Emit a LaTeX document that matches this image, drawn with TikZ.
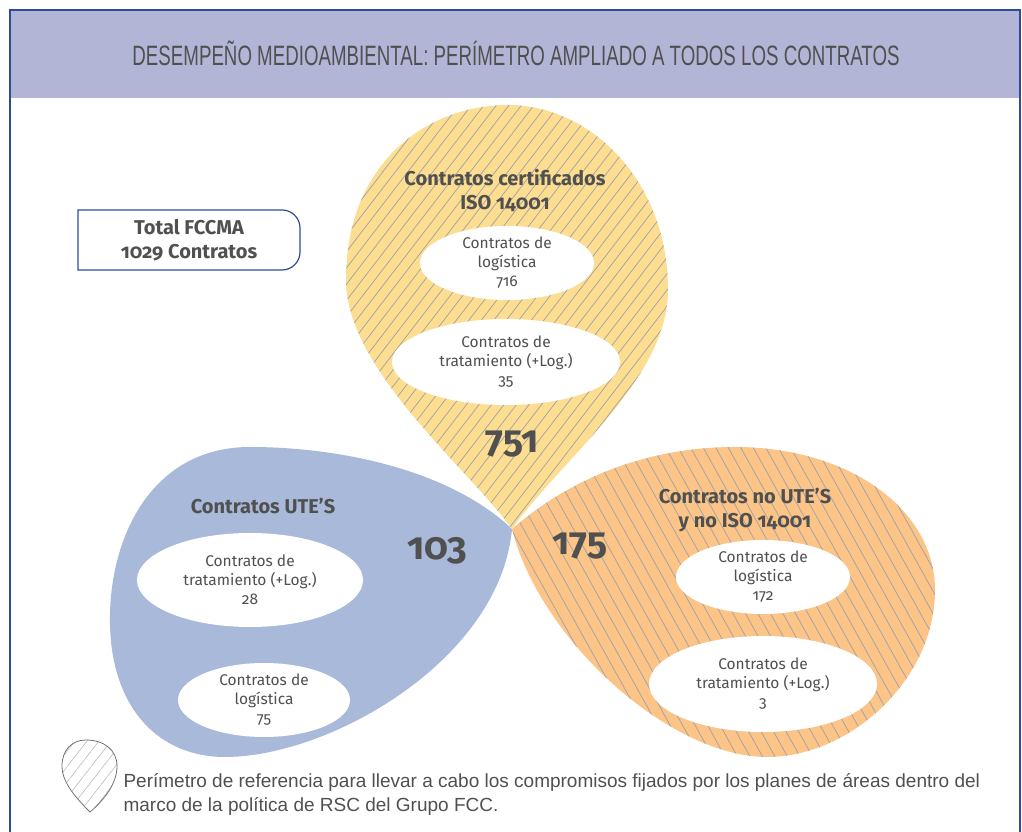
\documentclass[tikz,border=0pt]{standalone}
\usepackage{fontspec}
\usepackage{graphicx}
\usepackage{xcolor}
\setmainfont{Liberation Sans}
\newfontfamily\petalfont[RawFeature=+onum]{Fira Sans}
\usetikzlibrary{shapes.geometric, calc}

\definecolor{headband}{HTML}{B3B5D7}
\definecolor{frameblue}{HTML}{2A4D9B}
\definecolor{textgray}{HTML}{505050}
\definecolor{isoyellow}{HTML}{FDDD90}
\definecolor{uteblue}{HTML}{A9B9D9}
\definecolor{noorange}{HTML}{FCC486}
\definecolor{tanover}{HTML}{D8C28D}
\definecolor{warmover}{HTML}{FCCB6A}
\definecolor{hatchgray}{HTML}{9CA1AD}

% petal outlines (shared by fills, clips and hatching)
\newcommand{\isopetal}{(512,303) .. controls (470,362) and (346,462) .. (346,552)
  .. controls (346,672) and (430,727) .. (508,727)
  .. controls (590,727) and (668,652) .. (668,542)
  .. controls (668,452) and (560,372) .. (512,303) -- cycle}
\newcommand{\utepetal}{(512,303) .. controls (450,362) and (340,385) .. (250,385)
  .. controls (150,385) and (108,292) .. (110,207)
  .. controls (112,122) and (160,75) .. (225,75)
  .. controls (330,75) and (500,172) .. (512,303) -- cycle}
\newcommand{\nopetal}{(512,303) .. controls (580,362) and (660,385) .. (735,385)
  .. controls (850,385) and (935,322) .. (935,242)
  .. controls (935,152) and (850,75) .. (767,75)
  .. controls (670,75) and (540,192) .. (512,303) -- cycle}
\newcommand{\keydrop}{(90,20) .. controls (75,35) and (62,50) .. (62,66)
  .. controls (62,82) and (72,92) .. (86,92)
  .. controls (104,92) and (117,82) .. (117,66)
  .. controls (117,48) and (104,32) .. (90,20) -- cycle}

\begin{document}
\begin{tikzpicture}[x=1pt, y=1pt,
    hatchline/.style={draw=hatchgray, line width=0.7pt},
    innerellipse/.style={ellipse, fill=white, inner sep=0pt, text=textgray, align=center,
      font=\petalfont\fontsize{15.5}{19}\selectfont},
    headtext/.style={text=textgray, align=center, font=\petalfont\bfseries\fontsize{20}{24}\selectfont},
    bignum/.style={text=textgray, font=\petalfont\bfseries\fontsize{38}{38}\selectfont},
    frameline/.style={draw=frameblue, line width=2.2pt}]

    \useasboundingbox (0,0) rectangle (1022,832);

    % --- Header band and frame ---
    \fill[headband] (10,734) rectangle (1020,822);
    \draw[frameline] (10,0) -- (10,822) -- (1020,822) -- (1020,0);
    \node[text=textgray, font=\fontsize{28}{28}\selectfont] (title) at (516,779)
      {\resizebox{767pt}{\height}{DESEMPEÑO MEDIOAMBIENTAL: PERÍMETRO AMPLIADO A TODOS LOS CONTRATOS}};

    % --- Petals ---
    \fill[uteblue] \utepetal;
    \fill[noorange] \nopetal;
    \fill[isoyellow] \isopetal;
    \begin{scope}
        \clip \utepetal;
        \fill[tanover] \isopetal;
    \end{scope}
    \begin{scope}
        \clip \nopetal;
        \fill[warmover] \isopetal;
    \end{scope}

    % --- Hatching ---
    \begin{scope}
        \clip \isopetal;
        \foreach \i in {0,...,54}
            \draw[hatchline] (\i*12.5, 292) -- ++(338, 440);
    \end{scope}
    \begin{scope}
        \clip \nopetal;
        \foreach \i in {0,...,49}
            \draw[hatchline] (324+\i*12.5, 392) -- ++(179, -322);
    \end{scope}

    % --- Inner sets ---
    \node[innerellipse, minimum width=174pt, minimum height=74pt] (isolog) at (507,569)
      {Contratos de\\logística\\716};
    \node[innerellipse, minimum width=228pt, minimum height=86pt] (isotrat) at (506,470)
      {Contratos de\\tratamiento (+Log.)\\35};
    \node[innerellipse, minimum width=226pt, minimum height=94pt] (utetrat) at (250,252)
      {Contratos de\\tratamiento (+Log.)\\28};
    \node[innerellipse, minimum width=172pt, minimum height=74pt] (utelog) at (264,132)
      {Contratos de\\logística\\75};
    \node[innerellipse, minimum width=174pt, minimum height=74pt] (nolog) at (763,255)
      {Contratos de\\logística\\172};
    \node[innerellipse, minimum width=228pt, minimum height=96pt] (notrat) at (763,148)
      {Contratos de\\tratamiento (+Log.)\\3};

    % --- Petal labels ---
    \node[headtext] (isohead) at (505,642) {Contratos certificados\\ISO 14001};
    \node[headtext] (utehead) at (263,326) {Contratos UTE’S};
    \node[headtext] (nohead) at (745,322) {Contratos no UTE’S\\y no ISO 14001};
    \node[bignum] (isonum) at (512,388) {751};
    \node[bignum] (utenum) at (437,281) {103};
    \node[bignum] (nonum) at (580,286) {175};

    % --- Total box ---
    \node[headtext] (total) at (189,592) {Total FCCMA\\1029 Contratos};
    \draw[draw=frameblue, line width=1.2pt] (78,622) -- (282,622)
      arc[start angle=90, end angle=0, radius=18] -- (300,580)
      arc[start angle=0, end angle=-90, radius=18] -- (78,562) -- cycle;

    % --- Key ---
    \begin{scope}
        \clip \keydrop;
        \foreach \i in {0,...,8}
            \draw[draw=gray!60, line width=0.5pt] (\i*12, 10) -- ++(70, 90);
    \end{scope}
    \draw[draw=gray!90!black, line width=0.8pt] \keydrop;
    \node[anchor=west, text=textgray, align=left, font=\fontsize{19}{24}\selectfont] (keytext) at (120,38)
      {Perímetro de referencia para llevar a cabo los compromisos fijados por los planes de áreas dentro del\\
       marco de la política de RSC del Grupo FCC.};
\end{tikzpicture}
\end{document}
